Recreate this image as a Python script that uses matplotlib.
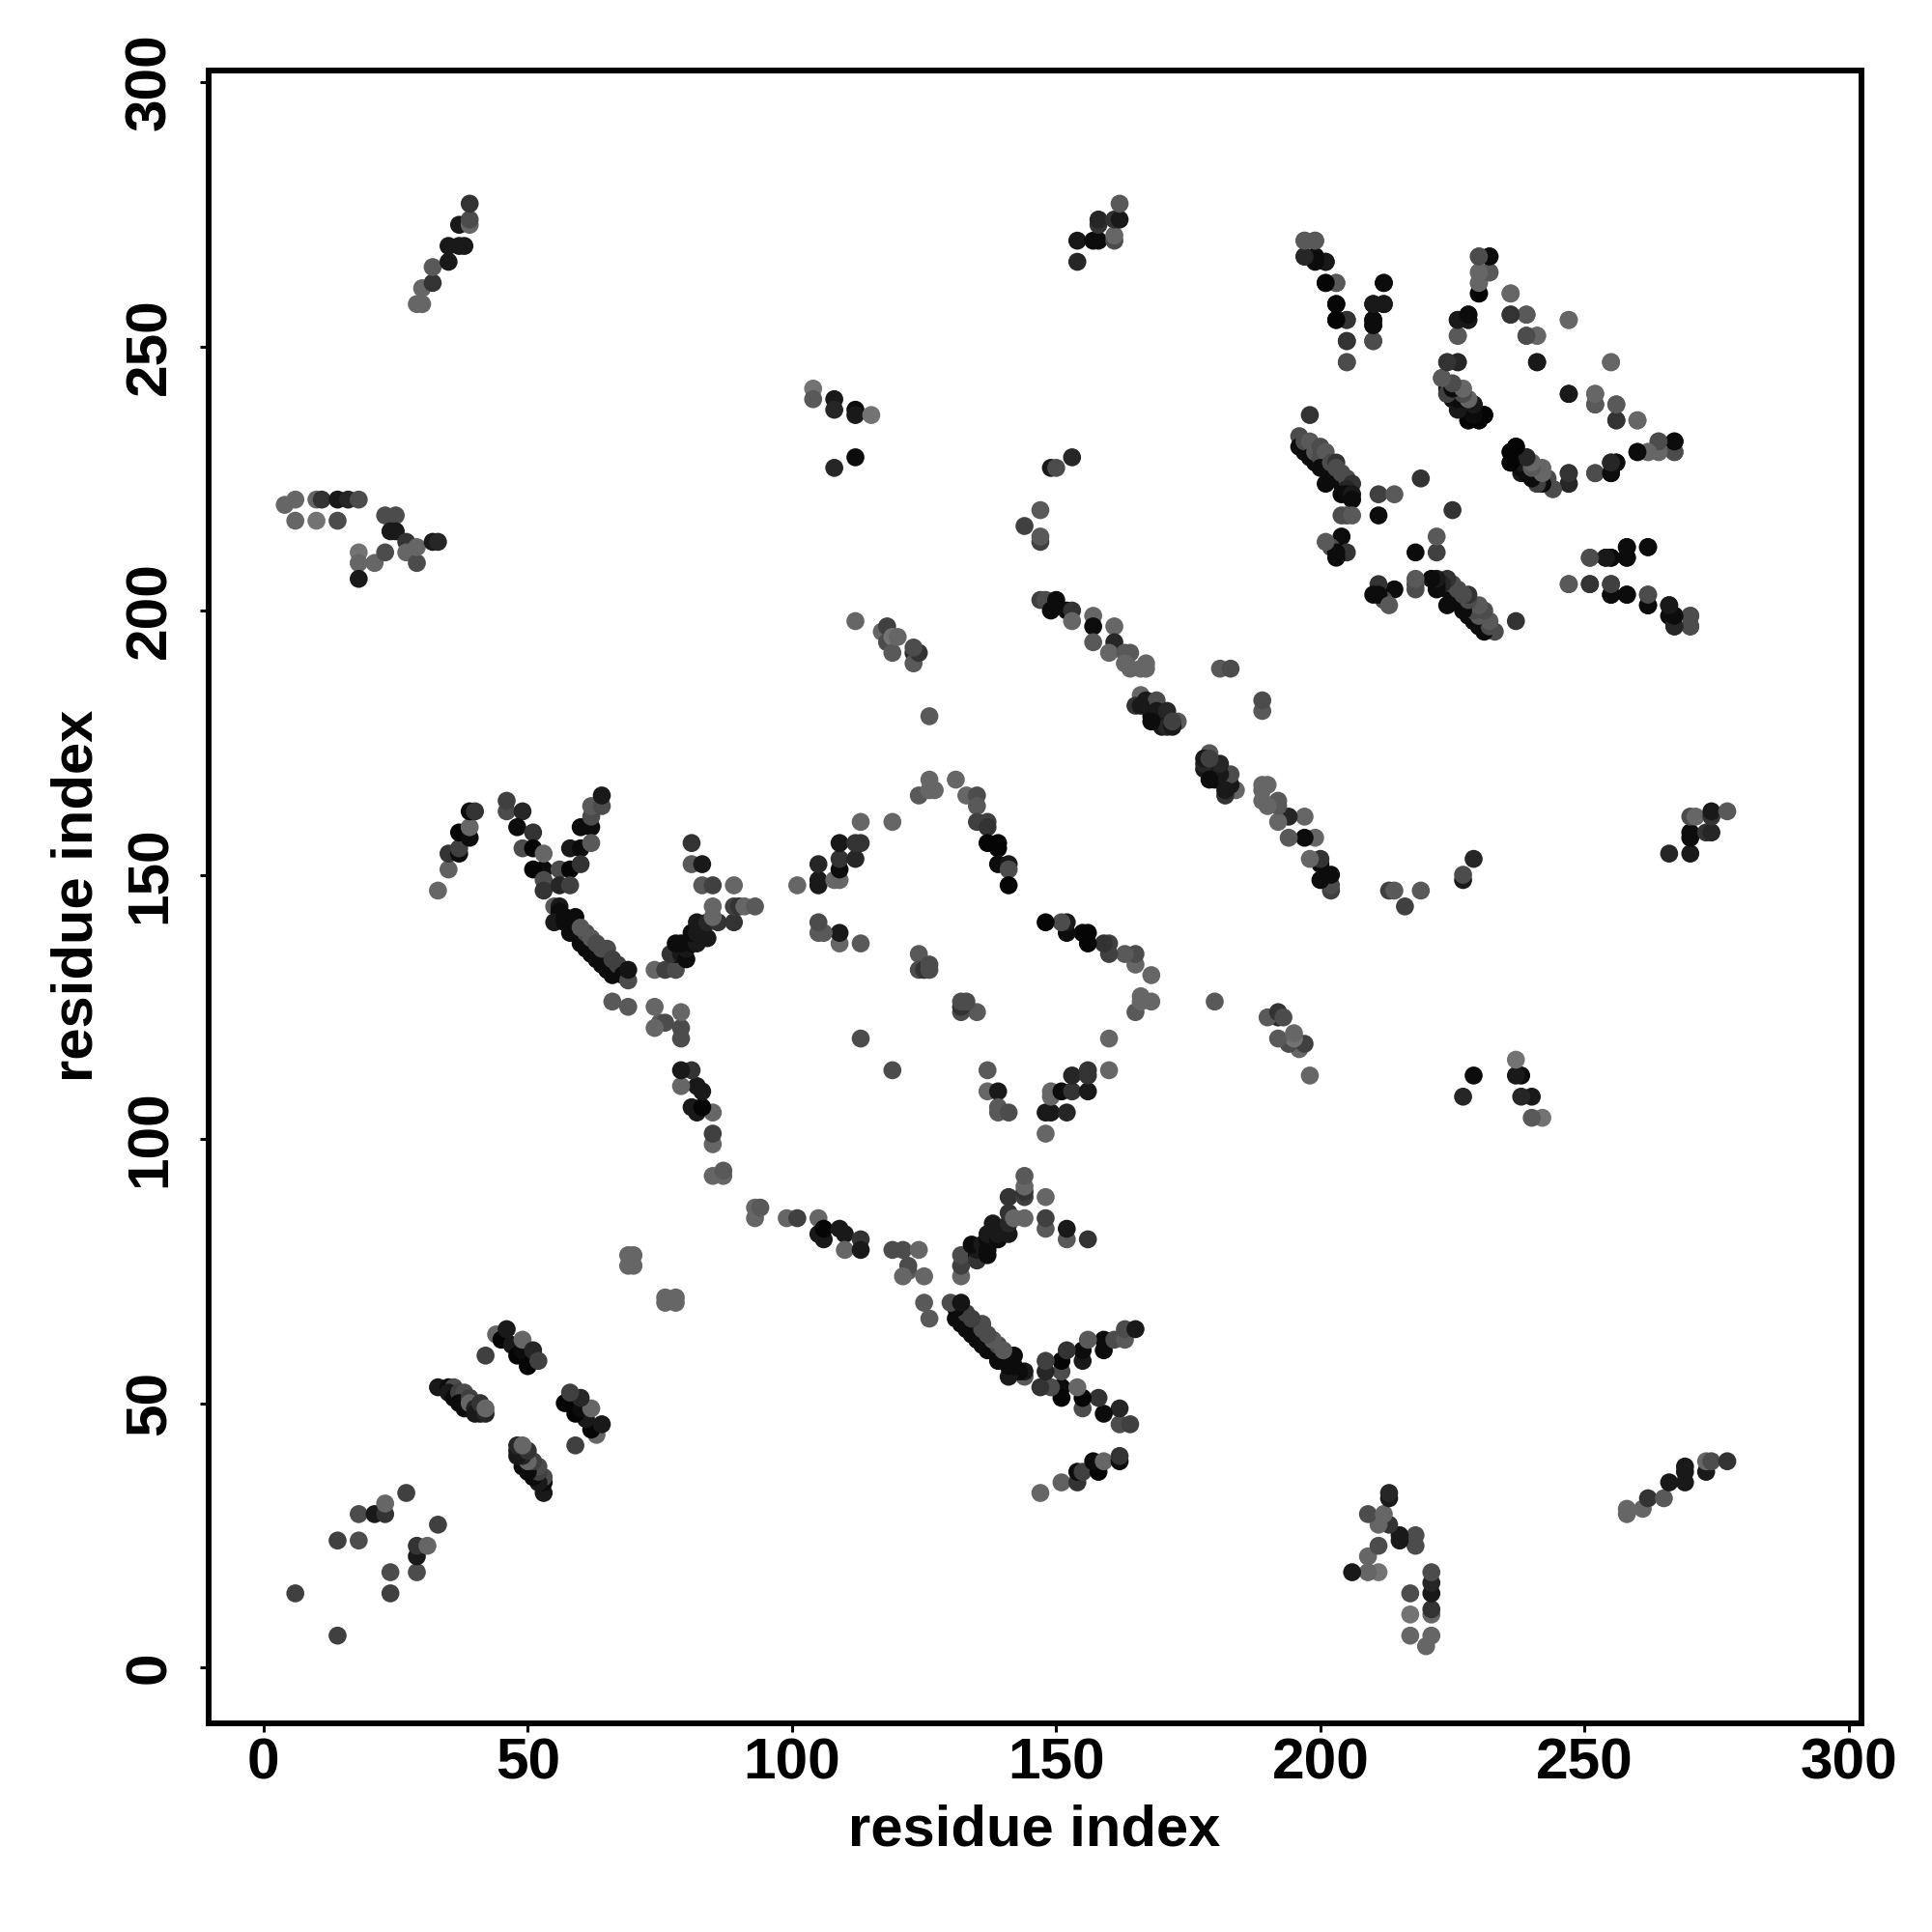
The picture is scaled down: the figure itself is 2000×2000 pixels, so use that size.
import numpy as np
import matplotlib
matplotlib.use("Agg")
import matplotlib.pyplot as plt

plt.rcParams['font.family'] = ['Liberation Sans', 'DejaVu Sans']

# contact map, symmetric: only i<j kept here as (i, j, grey level)
low_strands = [(6,14,.25),(14,24,.25),(18,24,.3),(18,29,.3),(21,29,.1),(23,29,.2),(23,31,.4),(27,33,.25)]
strand_53 = [(33,53,.1),(35,53,.05),(36,53,.3),(35,52,.1),(36,51,.05),(37,52,.25),(38,52,.3),(37,50,.05),
             (38,49,.05),(39,51,.25),(39,50,.4),(40,49,.15),(40,48,.1),(41,48,.1),(42,48,.15),(41,50,.2),(42,49,.4)]
strand_64 = [(42,59,.25),(44,63,.4),(45,62,.02),(46,64,.1),(47,61,.1),(48,59,.02),(49,60,.05),(50,57,.02),
             (49,62,.4),(51,60,.15),(52,58,.25)]
near_diag = [(69,78,.4),(70,78,.4),(69,76,.4),(70,76,.4),(85,93,.4),(87,93,.4),(87,94,.35),(113,119,.3)]
patch_85 = [(85,99,.4),(85,101,.25),(85,105,.4),(82,105,.1),(81,106,.1),(83,106,.02),(83,109,.1),(82,110,.1),
            (79,110,.4),(81,113,.2),(79,113,.1),(79,119,.3),(79,121,.3),(79,124,.4),(75,122,.35),(76,122,.3),
            (74,121,.4),(74,125,.4),(69,125,.35),(66,126,.35)]
arm_left = [(33,147,.4),(35,151,.38),(35,154,.2),(37,154,.05),(37,155,.25),(37,158,.02),(39,157,.05),
            (39,159,.4),(39,162,.05),(40,162,.2),(46,162,.3),(46,164,.25),(49,162,.15),(48,159,.05),
            (51,158,.2),(49,155,.3),(51,155,.02),(53,151,.05),(51,151,.02),(53,154,.4),(53,149,.3),(53,147,.2),
            (58,155,.1),(60,155,.05),(60,159,.05),(62,159,.05),(62,156,.35),(62,161,.3),(62,163,.35),
            (64,163,.3),(64,165,.1),(56,151,.3),(58,151,.02),(60,152,.2),(56,148,.15),(58,148,.25)]
arm_low = [(55,144,.35),(56,144,.1),(56,143,.05),(55,141,.1),(57,141,.05),(57,142,.05),(58,139,.05),(59,142,.05),
           (59,139,.05),(60,137,.05),(61,136,.05),(61,139,.3),(60,140,.35),(62,135,.05),(62,138,.35),
           (63,134,.05),(63,137,.3),(64,133,.05),(64,136,.3),(65,132,.05),(65,136,.3),(66,131,.05),
           (66,134,.25),(67,133,.25),(68,131,.05),(69,130,.3),(69,132,.08)]
arm_up = [(74,132,.4),(76,132,.25),(78,132,.3),(78,135,.05),(77,135,.2),(79,135,.1),(80,134,.05),(80,136,.1),
          (78,137,.05),(79,137,.05),(81,137,.05),(82,137,.1),(81,139,.05),(82,139,.1),(83,140,.1),(84,138,.1),
          (82,141,.1),(84,141,.15),(86,141,.2),(89,141,.2),(85,142,.4),(85,144,.4),(89,144,.25),(90,144,.2),
          (91,144,.4),(93,144,.35),(81,152,.35),(83,152,.1),(81,156,.2),(83,148,.35),(85,148,.25),(89,148,.4)]
patch_105 = [(101,148,.4),(105,148,.1),(105,149,.1),(105,152,.15),(108,149,.4),(109,149,.4),(109,151,.05),
             (109,153,.2),(109,156,.1),(112,153,.15),(112,156,.2),(113,156,.2),(113,160,.4),(119,160,.4),
             (113,137,.35),(109,137,.4),(109,139,.1),(105,139,.35),(106,139,.35),(105,141,.3)]
arc_top = [(124,165,.35),(126,168,.4),(127,166,.4),(126,166,.4),(131,168,.4),(133,165,.4),(135,165,.3),
           (135,163,.35),(135,160,.25),(137,160,.25),(137,159,.2),(137,156,.02),(139,156,.02),(139,155,.02),
           (139,152,.05),(141,152,.1),(141,151,.3),(141,148,.02),(124,135,.35),(124,132,.3),(125,132,.2),
           (126,132,.3),(126,133,.3)]
patch_115 = [(112,198,.4),(117,196,.4),(118,197,.25),(118,194,.3),(119,195,.45),(119,192,.35),(120,195,.4),
             (123,192,.15),(123,190,.35),(124,192,.2),(123,193,.3),(126,180,.35)]
patch_104 = [(104,242,.45),(104,240,.35),(108,240,.1),(108,238,.15),(112,238,.05),(112,237,.1),(115,237,.45),
             (108,227,.15),(112,229,.05)]
band_147 = [(147,202,.25),(148,202,.3),(149,201,.3),(149,200,.05),(150,202,.05),(152,200,.05),(153,200,.2),
            (153,198,.4),(157,199,.4),(157,197,.05),(157,194,.35),(161,197,.4),(161,194,.15),(160,192,.4),
            (163,192,.35),(164,192,.35),(163,190,.4),(164,189,.4),(166,189,.4),(167,189,.4),(167,190,.4)]
band_166 = [(166,184,.4),(165,182,.2),(167,183,.1),(169,183,.3),(168,180,.05),(169,181,.1),(171,181,.15),(170,178,.1),
            (173,179,.35),(171,178,.15),(172,178,.1),(172,179,.25),(168,179,.05),(166,182,.1),(181,189,.35),(183,189,.3)]
patch_150 = [(147,213,.25),(147,214,.35),(147,219,.35),(144,216,.25),(149,227,.1),(150,227,.3),(153,229,.15)]
top_mid = [(154,270,.1),(154,266,.15),(157,270,.05),(158,270,.05),(158,273,.2),(158,274,.15),(161,270,.3),
           (161,271,.4),(161,274,.2),(162,274,.1),(162,277,.35)]
top_left = [(29,258,.4),(30,258,.4),(30,261,.4),(32,262,.2),(32,265,.35),(35,266,.1),(35,269,.1),(37,269,.1),
            (38,269,.1),(37,273,.1),(39,273,.4),(39,274,.3),(39,277,.2)]
left_mid = [(4,220,.4),(6,221,.4),(6,217,.4),(10,221,.4),(11,221,.2),(10,217,.45),(14,221,.1),(14,217,.3),
            (16,221,.15),(18,221,.3),(18,211,.45),(18,209,.4),(18,206,.1),(21,209,.4),(23,211,.3),(23,218,.3),
            (25,218,.3),(24,215,.1),(25,215,.1),(27,213,.2),(27,211,.4),(29,209,.3),(29,212,.4),(32,213,.1),
            (33,213,.15)]
v_shape = [(197,270,.3),(199,270,.3),(197,267,.15),(199,267,.05),(201,266,.1),(201,262,.05),(203,262,.3),
           (203,258,.05),(203,255,.05),(205,255,.25),(205,251,.2),(205,247,.35),(212,262,.05),(210,258,.05),
           (212,258,.05),(210,255,.05),(210,254,.1),(210,251,.3)]
top_right = [(226,252,.3),(226,255,.05),(228,256,.05),(228,255,.15),(224,247,.15),(226,247,.2),(223,244,.3),
             (224,242,.05),(224,241,.25),(225,240,.05),(226,239,.05),(227,238,.05),(228,238,.1),(229,237,.05),
             (226,242,.4),(227,240,.35),(228,240,.4),(229,239,.15),(228,236,.02),
             (230,236,.02),(231,237,.02),(230,267,.3),(232,267,.05),(230,264,.4),(232,264,.3),(230,262,.4),
             (230,260,.05),(236,260,.4),(236,256,.2),(239,256,.35),(239,252,.35),(241,252,.4),(241,247,.1),
             (247,255,.4),(255,247,.4),(247,241,.1),(252,241,.4),(252,239,.3),(256,239,.35),(256,236,.2),
             (260,236,.4)]
patch_230 = [(236,230,.02),(236,228,.02),(237,231,.02),(237,229,.05),(238,228,.05),(239,229,.1),(239,226,.05),
             (238,226,.1),(240,226,.05),(240,227,.05),(240,228,.4),(241,224,.25),(241,227,.3),(242,225,.05),
             (242,227,.4),(243,225,.3),(244,223,.35),(247,226,.15),(247,224,.2),(252,226,.35),(255,226,.1),
             (255,228,.1),(256,228,.05),(260,230,.02),(262,230,.4),(264,232,.35),(264,230,.4),(267,232,.05),
             (267,230,.3)]
band_196 = [(198,237,.2),(196,233,.3),(196,231,.05),(197,230,.05),(197,232,.3),(198,232,.35),(198,229,.05),
            (199,228,.05),(199,230,.35),(200,231,.3),(200,229,.3),(201,230,.35),(200,227,.05),(201,227,.05),
            (202,226,.05),(202,228,.3),(203,228,.2),(203,225,.05),(203,227,.3),(201,224,.05),(204,224,.05),
            (204,226,.3),(205,225,.3),(206,224,.2),(205,223,.15),(205,222,.05),(204,222,.05),
            (206,222,.1),(206,221,.05),(211,222,.25),(214,222,.35),(211,218,.05),(219,225,.2),(204,218,.3),
            (205,218,.3),(206,218,.35),(204,214,.05),(202,212,.3),(205,211,.2),(203,211,.05),(203,210,.05),
            (201,213,.35)]
right_band = [(251,210,.3),(254,210,.05),(255,210,.05),(258,212,.1),(258,210,.1),(262,212,.05),(247,205,.3),
              (251,205,.2),(255,205,.2),(255,203,.02),(258,203,.03),(262,203,.35),(262,201,.02),(266,201,.1),
              (266,199,.05),(267,199,.05),(267,197,.15),(270,199,.35),(270,197,.35)]

clusters = [low_strands, strand_53, strand_64, near_diag, patch_85, arm_left, arm_low, arm_up, patch_105,
            arc_top, patch_115, patch_104, band_147, band_166, patch_150, top_mid, top_left, left_mid,
            v_shape, top_right, patch_230, band_196, right_band]

tick_vals = [0, 50, 100, 150, 200, 250, 300]

contacts = [c for group in clusters for c in group]
res_i = np.array([c[0] for c in contacts])
res_j = np.array([c[1] for c in contacts])
grey = np.array([c[2] for c in contacts])

fig = plt.figure(figsize=(20, 20), dpi=100)
ax = fig.add_axes([216/2000, 216/2000, 1711/2000, 1711/2000])

ax.scatter(np.r_[res_i, res_j], np.r_[res_j, res_i], c=np.r_[grey, grey], cmap='gray', vmin=0, vmax=1,
           s=180, linewidths=0, clip_on=False, zorder=3)

ax.set_xlim(-10.4, 302.4)
ax.set_ylim(-10.6, 302.2)
ax.set_xticks(tick_vals)
ax.set_yticks(tick_vals)
ax.tick_params(axis='x', length=6.5, width=2.2, labelsize=43.5, pad=4)
ax.tick_params(axis='y', length=6.5, width=2.2, labelsize=43.5, pad=17)
for s in ax.spines.values():
    s.set_linewidth(4.3)
for t in ax.get_xticklabels():
    t.set_fontweight('bold')
for t in ax.get_yticklabels():
    t.set_fontweight('bold')
    t.set_rotation(90)
    t.set_va('center')

fig.text(1071/2000, 1-1895/2000, 'residue index', fontsize=43, fontweight='bold', ha='center', va='center')
fig.text(80/2000, 1-927/2000, 'residue index', fontsize=43, fontweight='bold', ha='center', va='center', rotation=90)

fig.savefig('out.png', dpi=100, facecolor='white')
